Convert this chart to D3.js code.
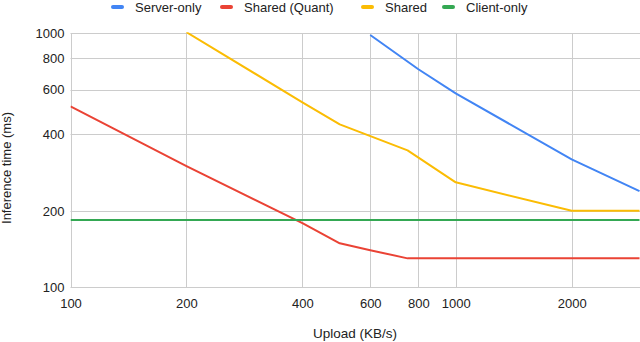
<!DOCTYPE html>
<html>
<head>
<meta charset="utf-8">
<script src="https://cdn.jsdelivr.net/npm/d3@7"></script>
<style>
  html, body { margin: 0; padding: 0; background: #fff; }
  svg { display: block; font-family: "Liberation Sans", Arial, sans-serif; }
</style>
</head>
<body>
<svg id="chart" width="640" height="342"></svg>
<script>
// ---- data ----
const upload = [100, 200, 400, 500, 600, 750, 800, 1000, 2000, 3000];
const serverOnly  = [null, null, null, null, 985, null, 722, 580, 319, 239];
const sharedQuant = [516, 300, 179, 149, 140, 130, null, 130, 130, 130];
const shared      = [null, 1010, 535, 438, null, 346, null, 259, 200, 200];
const clientOnly  = [184, null, null, null, null, null, null, null, null, 184];

const seriesNames  = ["Server-only", "Shared (Quant)", "Shared", "Client-only"];
const seriesValues = [serverOnly, sharedQuant, shared, clientOnly];
const seriesColors = ["#4285F4", "#EA4335", "#FBBC04", "#34A853"];

const xTicks = [100, 200, 400, 600, 800, 1000, 2000];
const yTicks = [100, 200, 400, 600, 800, 1000];

// ---- layout ----
const svg = d3.select("#chart");
const pLeft = 70.5, pRight = 639.5, pTop = 33.3, pBottom = 287.3;

const x = d3.scaleLog().domain([100, 3000]).range([pLeft, pRight]);
const y = d3.scaleLog().domain([100, 1000]).range([pBottom, pTop]);

// clip
svg.append("defs").append("clipPath").attr("id", "clip")
  .append("rect").attr("x", pLeft).attr("y", pTop - 1).attr("width", 640 - pLeft).attr("height", pBottom - pTop + 2);

// gridlines
const grid = svg.append("g");
grid.selectAll("line.h").data(yTicks).join("line")
  .attr("x1", pLeft).attr("x2", 640)
  .attr("y1", d => Math.round(y(d)) + 0.5).attr("y2", d => Math.round(y(d)) + 0.5)
  .attr("stroke", "#cccccc").attr("stroke-width", 1);
grid.selectAll("line.v").data(xTicks).join("line")
  .attr("y1", pTop).attr("y2", pBottom)
  .attr("x1", d => Math.round(x(d)) + 0.5).attr("x2", d => Math.round(x(d)) + 0.5)
  .attr("stroke", "#cccccc").attr("stroke-width", 1);

// axes (labels only)
const fmt = d => String(d);
const xAxis = d3.axisBottom(x).tickValues(xTicks).tickFormat(fmt).tickSize(0).tickPadding(11);
const gx = svg.append("g").attr("transform", `translate(0,${pBottom})`).call(xAxis);
gx.select(".domain").remove();
gx.selectAll("text").attr("fill", "#222").style("font-size", "13px").style("font-family", "Liberation Sans, Arial, sans-serif");

const yAxis = d3.axisLeft(y).tickValues(yTicks).tickFormat(fmt).tickSize(0).tickPadding(6);
const gy = svg.append("g").attr("transform", `translate(${pLeft},0)`).call(yAxis);
gy.select(".domain").remove();
gy.selectAll("text").attr("fill", "#222").style("font-size", "13px").style("font-family", "Liberation Sans, Arial, sans-serif");

// lines
const line = d3.line().x(d => x(d[0])).y(d => y(d[1]));
const lines = svg.append("g").attr("clip-path", "url(#clip)");
seriesValues.forEach((vals, i) => {
  const pts = upload.map((u, j) => [u, vals[j]]).filter(p => p[1] != null);
  lines.append("path").datum(pts)
    .attr("d", line)
    .attr("fill", "none")
    .attr("stroke", seriesColors[i])
    .attr("stroke-width", 2)
    .attr("stroke-linejoin", "round");
});

// axis titles
svg.append("text")
  .attr("x", (pLeft + pRight) / 2).attr("y", 338)
  .attr("text-anchor", "middle")
  .attr("fill", "#222").style("font-size", "13.5px")
  .text("Upload (KB/s)");
svg.append("text")
  .attr("transform", `translate(11,168) rotate(-90)`)
  .attr("text-anchor", "middle")
  .attr("fill", "#222").style("font-size", "13px")
  .text("Inference time (ms)");

// legend
const legendX = [111, 220, 361, 442];
const legend = svg.append("g");
seriesNames.forEach((name, i) => {
  const g = legend.append("g").attr("transform", `translate(${legendX[i]},0)`);
  g.append("rect").attr("x", 0).attr("y", 5).attr("width", 13).attr("height", 4).attr("rx", 2)
    .attr("fill", seriesColors[i]);
  g.append("text").attr("x", 24).attr("y", 11.5)
    .attr("fill", "#222").style("font-size", "13px").text(name);
});
</script>
</body>
</html>
